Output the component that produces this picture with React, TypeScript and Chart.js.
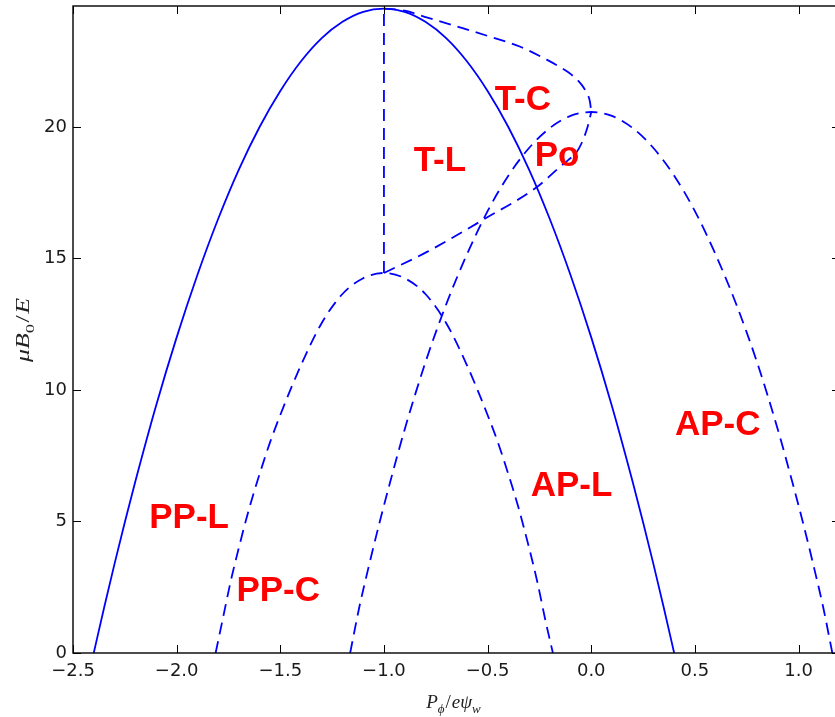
import React, { useEffect, useRef } from "react";
import { Chart, registerables } from "chart.js";

Chart.register(...registerables);

// ---- axis ticks ----
const xTicks = [-2.5, -2.0, -1.5, -1.0, -0.5, 0.0, 0.5, 1.0];
const yTicks = [0, 5, 10, 15, 20];
const X_MIN = -2.5;
const X_MAX = 1.2;
const Y_MIN = 0;
const Y_MAX = 24.6;

// ---- solid boundary (outer) ----
const solidX = [-2.4, -2.35, -2.3, -2.25, -2.2, -2.1, -2.0, -1.9, -1.8, -1.7, -1.6, -1.5, -1.4, -1.3, -1.2, -1.1, -1.0,
  -0.9, -0.8, -0.7, -0.6, -0.5, -0.4, -0.3, -0.2, -0.1, 0.0, 0.1, 0.2, 0.25, 0.3, 0.35, 0.4];
const solidY = [0, 1.72, 3.38, 4.97, 6.5, 9.38, 12.0, 14.37, 16.5, 18.38, 20.0, 21.37, 22.5, 23.38, 24.0, 24.38, 24.5,
  24.38, 24.0, 23.38, 22.5, 21.37, 20.0, 18.38, 16.5, 14.37, 12.0, 9.38, 6.5, 4.97, 3.38, 1.72, 0];

// ---- dashed: PP-C / AP-L arch ----
const ppcX = [-1.812, -1.78, -1.74, -1.7, -1.65, -1.6, -1.55, -1.5, -1.4, -1.3, -1.2, -1.1, -1.0,
  -0.9, -0.8, -0.7, -0.6, -0.5, -0.45, -0.4, -0.35, -0.3, -0.26, -0.22, -0.185];
const ppcY = [0, 1.2, 2.7, 4.0, 5.5, 6.8, 8.0, 9.05, 10.95, 12.55, 13.65, 14.25, 14.45,
  14.25, 13.65, 12.55, 10.95, 9.05, 8.0, 6.8, 5.5, 4.0, 2.7, 1.2, 0];

// ---- dashed: AP-C arch ----
const apcX = [-1.163, -1.12, -1.07, -1.02, -0.97, -0.9, -0.8, -0.7, -0.6, -0.5, -0.4, -0.3, -0.2, -0.1, 0.0,
  0.1, 0.2, 0.3, 0.4, 0.5, 0.6, 0.7, 0.8, 0.9, 0.97, 1.02, 1.07, 1.12, 1.163];
const apcY = [0, 1.7, 3.4, 5.0, 6.5, 8.5, 11.05, 13.25, 15.15, 16.8, 18.15, 19.2, 19.96, 20.42, 20.57,
  20.42, 19.96, 19.2, 18.15, 16.8, 15.15, 13.25, 11.05, 8.5, 6.5, 5.0, 3.4, 1.7, 0];

// ---- dashed: T-L / Po boundary ----
const tlX = [-1.0, -0.79, -0.52, -0.26, -0.15, -0.11, -0.07, -0.045, -0.017, 0.0];
const tlY = [14.45, 15.26, 16.48, 17.73, 18.49, 18.75, 19.05, 19.41, 20.02, 20.57];

// ---- dashed: T-C upper boundary ----
const tcX = [-1.0, -0.9, -0.79, -0.63, -0.475, -0.345, -0.215, -0.128, -0.094, -0.046, -0.022, -0.006, 0.0];
const tcY = [24.5, 24.42, 24.16, 23.78, 23.4, 23.06, 22.56, 22.17, 21.98, 21.6, 21.29, 20.95, 20.57];

// ---- dashed: vertical separator ----
const vertX = [-1.0, -1.0];
const vertY = [14.45, 24.5];

// ---- region names ----
const regionNames = ["PP-L", "PP-C", "T-L", "T-C", "Po", "AP-L", "AP-C"];
const regionX = [-1.94, -1.51, -0.73, -0.33, -0.165, -0.095, 0.61];
const regionY = [5.16, 2.38, 18.72, 21.06, 18.92, 6.37, 8.68];

const LINE_COLOR = "#0000ff";
const DASH = [12, 7];
const TICK_FONT = { family: "'DejaVu Sans', sans-serif", size: 18 };
const SERIF = "'Liberation Serif', 'DejaVu Serif', serif";

type Run = { t: string; sub?: boolean; upright?: boolean };

function drawRuns(ctx: CanvasRenderingContext2D, runs: Run[], cx: number, cy: number, size: number, rotate: boolean, targetLen?: number) {
  const fontFor = (r: Run) => `${r.upright ? "" : "italic "}${r.sub ? Math.round(size * 0.7) : size}px ${SERIF}`;
  const widths = runs.map((r) => {
    ctx.font = fontFor(r);
    return ctx.measureText(r.t).width + (r.t === "/" ? 2 : 0);
  });
  const total = widths.reduce((a, b) => a + b, 0);
  ctx.save();
  ctx.translate(cx, cy);
  if (rotate) ctx.rotate(-Math.PI / 2);
  if (targetLen) ctx.scale(targetLen / total, 1);
  ctx.fillStyle = "#222";
  ctx.textBaseline = "alphabetic";
  ctx.textAlign = "left";
  let x = -total / 2;
  runs.forEach((r, i) => {
    ctx.font = fontFor(r);
    ctx.fillText(r.t, x + (r.t === "/" ? 1 : 0), r.sub ? size * 0.28 : 0);
    x += widths[i];
  });
  ctx.restore();
}

const framePlugin = {
  id: "frame",
  afterDatasetsDraw(chart: any) {
    const { ctx, chartArea, scales } = chart;
    const { left, right, top, bottom } = chartArea;
    // region names
    ctx.save();
    ctx.fillStyle = "#ff0000";
    ctx.font = "bold 35px 'Liberation Sans', Arial, sans-serif";
    ctx.textAlign = "center";
    ctx.textBaseline = "middle";
    regionNames.forEach((name, i) => {
      ctx.fillText(name, scales.x.getPixelForValue(regionX[i]), scales.y.getPixelForValue(regionY[i]) + 1);
    });
    ctx.restore();

    // frame & inward ticks
    ctx.save();
    ctx.strokeStyle = "#000";
    ctx.lineWidth = 1.4;
    ctx.strokeRect(left, top, right - left, bottom - top);
    ctx.lineWidth = 1;
    ctx.beginPath();
    xTicks.forEach((v) => {
      const px = Math.round(scales.x.getPixelForValue(v)) + 0.5;
      ctx.moveTo(px, bottom);
      ctx.lineTo(px, bottom - 8);
      ctx.moveTo(px, top);
      ctx.lineTo(px, top + 8);
    });
    yTicks.forEach((v) => {
      const py = Math.round(scales.y.getPixelForValue(v)) + 0.5;
      ctx.moveTo(left, py);
      ctx.lineTo(left + 8, py);
      ctx.moveTo(right, py);
      ctx.lineTo(right - 8, py);
    });
    ctx.stroke();
    ctx.restore();

    // axis titles
    const xc = (left + right) / 2;
    drawRuns(ctx, [{ t: "P" }, { t: "ϕ", sub: true }, { t: "/", upright: true }, { t: "e" }, { t: "ψ" }, { t: "w", sub: true }],
      xc - 3, 708, 19, false);
    drawRuns(ctx, [{ t: "μ" }, { t: "B" }, { t: "0", sub: true, upright: true }, { t: "/", upright: true }, { t: "E" }],
      29, 330, 18, true, 64);
  },
};

export default function App() {
  const ref = useRef<HTMLCanvasElement>(null);
  useEffect(() => {
    const canvas = ref.current;
    if (!canvas) return;
    const pts = (xs: number[], ys: number[]) => xs.map((x, i) => ({ x, y: ys[i] }));
    const base: any = {
      showLine: true,
      pointRadius: 0,
      pointHoverRadius: 0,
      borderColor: LINE_COLOR,
      borderWidth: 1.8,
      fill: false,
      cubicInterpolationMode: "monotone",
    };
    const chart = new Chart(canvas, {
      type: "scatter",
      data: {
        datasets: [
          { ...base, data: pts(solidX, solidY) },
          { ...base, data: pts(ppcX, ppcY), borderDash: DASH },
          { ...base, data: pts(apcX, apcY), borderDash: DASH },
          { ...base, data: pts(tlX, tlY), borderDash: DASH },
          { ...base, data: pts(tcX, tcY), borderDash: DASH },
          { ...base, data: pts(vertX, vertY), borderDash: DASH, cubicInterpolationMode: "default", tension: 0 },
        ],
      },
      options: {
        animation: false,
        responsive: false,
        maintainAspectRatio: false,
        events: [],
        layout: { padding: { top: 6, right: 10, left: 0, bottom: 0 } },
        plugins: { legend: { display: false }, tooltip: { enabled: false } },
        scales: {
          x: {
            type: "linear",
            min: X_MIN,
            max: X_MAX,
            grid: { display: false, drawTicks: false },
            border: { display: false },
            afterBuildTicks: (s: any) => {
              s.ticks = xTicks.map((v) => ({ value: v }));
            },
            afterFit: (s: any) => {
              s.height = 64;
              s.paddingLeft = 0;
              s.paddingRight = 0;
            },
            ticks: {
              font: TICK_FONT,
              color: "#1a1a1a",
              padding: 8,
              maxRotation: 0,
              autoSkip: false,
              callback: (v: any) => {
                const n = Number(v);
                return (n < 0 ? "\u2212" : "") + Math.abs(n).toFixed(1);
              },
            },
          },
          y: {
            type: "linear",
            min: Y_MIN,
            max: Y_MAX,
            grid: { display: false, drawTicks: false },
            border: { display: false },
            afterBuildTicks: (s: any) => {
              s.ticks = yTicks.map((v) => ({ value: v }));
            },
            afterFit: (s: any) => {
              s.width = 73;
              s.paddingTop = 0;
              s.paddingBottom = 0;
            },
            ticks: {
              font: TICK_FONT,
              color: "#1a1a1a",
              padding: 6,
              autoSkip: false,
              callback: (v: any) => String(v),
            },
          },
        },
      },
      plugins: [framePlugin],
    } as any);
    return () => chart.destroy();
  }, []);

  return (
    <div style={{ position: "fixed", left: 0, top: 0, width: 835, height: 717, overflow: "hidden", background: "#fff" }}>
      <canvas ref={ref} width={850} height={717} style={{ display: "block", width: 850, height: 717 }} />
    </div>
  );
}
